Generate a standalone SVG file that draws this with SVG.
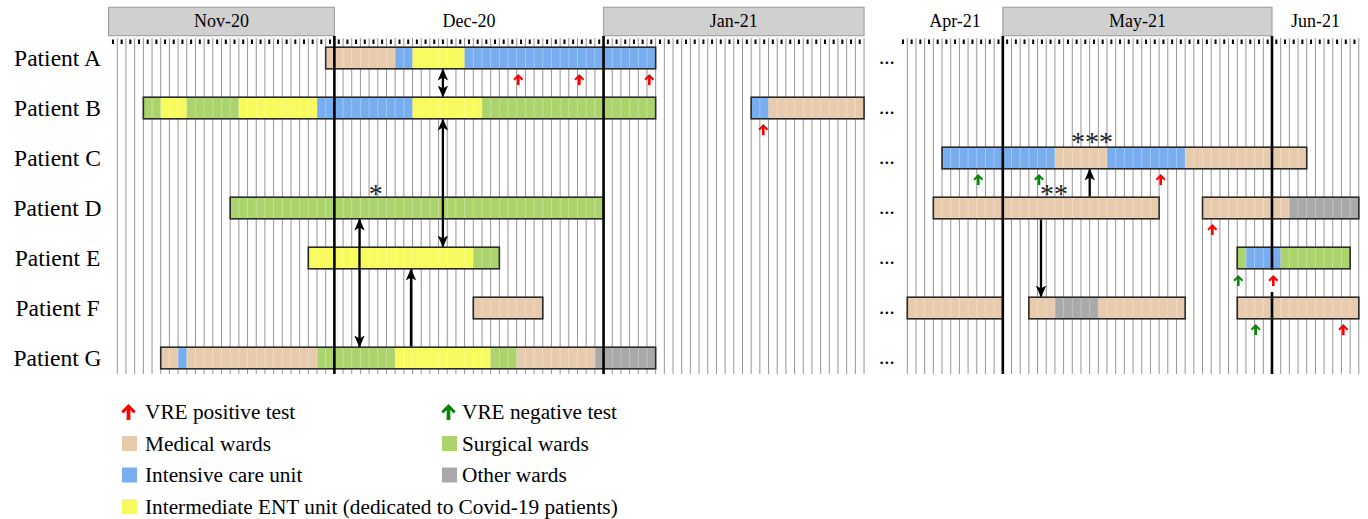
<svg xmlns="http://www.w3.org/2000/svg" width="1368" height="519" viewBox="0 0 1368 519">
<style>
text{font-family:"Liberation Serif","Times New Roman",serif;fill:#000}
.hdr{fill:#d0d0d0;stroke:#a3a3a3;stroke-width:1.2}
.mon{font-size:18px;text-anchor:middle}
.pl{font-size:23.5px;text-anchor:middle}
.dots{font-size:21px}
.star{font-size:28px;text-anchor:middle;fill:#222}
.grid{stroke:#959595;stroke-width:336;stroke-dasharray:1 7.683}
.tick{stroke:#000;stroke-width:4.5;stroke-dasharray:2 6.683}
.ml{stroke:#000;stroke-width:2.6}
.med{fill:#e8cbad}.sur{fill:#acd46c}.icu{fill:#78aef0}.ent{fill:#f8fb5c}.oth{fill:#a9a9a9}
.cell{stroke:#fff;stroke-opacity:.3;stroke-width:21;stroke-dasharray:1 7.683}
.bar{fill:none;stroke:#2a2a2a;stroke-width:1.6}
.pos{fill:#f00}.neg{fill:#0a870a}
.con{stroke:#000;stroke-width:2.3;fill:none}
.leg{font-size:21.3px}
</style>
<defs>
<marker id="ah" viewBox="0 0 12 12" refX="11" refY="6" markerWidth="12" markerHeight="12" markerUnits="userSpaceOnUse" orient="auto-start-reverse"><path d="M0,0.8 L12,6 L0,11.2 L3,6 Z" fill="#000"/></marker>
<path id="up" d="M0,0 L5,5 L3.5,6.5 L1.3,4.2 L1.3,11 L-1.3,11 L-1.3,4.2 L-3.5,6.5 L-5,5 Z"/>
</defs>
<rect width="1368" height="519" fill="#fff"/>

<g id="headers">
<rect class="hdr" x="108.6" y="7.3" width="225.8" height="28.4"/>
<rect class="hdr" x="603.55" y="7.3" width="260.5" height="28.4"/>
<rect class="hdr" x="1002.81" y="7.3" width="269.18" height="28.4"/>
<text class="mon" x="221.5" y="26.5">Nov-20</text>
<text class="mon" x="469" y="26.5">Dec-20</text>
<text class="mon" x="733.8" y="26.5">Jan-21</text>
<text class="mon" x="955" y="26.5">Apr-21</text>
<text class="mon" x="1137.4" y="26.5">May-21</text>
<text class="mon" x="1315.4" y="26.5">Jun-21</text>
</g>

<g id="grid">
<line class="grid" x1="116.8" y1="206" x2="864.6" y2="206"/>
<line class="grid" x1="906.8" y1="206" x2="1359.4" y2="206"/>
<line class="tick" x1="111.96" y1="41.7" x2="862" y2="41.7"/>
<line class="tick" x1="901.96" y1="41.7" x2="1356" y2="41.7"/>
</g>

<g id="labels">
<text class="pl" x="57.5" y="65.5">Patient A</text>
<text class="pl" x="57.5" y="115.5">Patient B</text>
<text class="pl" x="57.5" y="165.5">Patient C</text>
<text class="pl" x="57.5" y="215.5">Patient D</text>
<text class="pl" x="57.5" y="265.5">Patient E</text>
<text class="pl" x="57.5" y="315.5">Patient F</text>
<text class="pl" x="57.5" y="365.5">Patient G</text>
<text class="dots" x="879" y="64">...</text>
<text class="dots" x="879" y="114">...</text>
<text class="dots" x="879" y="164">...</text>
<text class="dots" x="879" y="214">...</text>
<text class="dots" x="879" y="264">...</text>
<text class="dots" x="879" y="314">...</text>
<text class="dots" x="879" y="364">...</text>
</g>

<g id="patient-a">
<rect class="med" x="325.69" y="47.2" width="69.47" height="21.6"/>
<rect class="icu" x="395.16" y="47.2" width="17.36" height="21.6"/>
<rect class="ent" x="412.52" y="47.2" width="52.1" height="21.6"/>
<rect class="icu" x="464.62" y="47.2" width="191.03" height="21.6"/>
<line class="cell" x1="325.19" y1="58" x2="656.15" y2="58"/>
<rect class="bar" x="325.69" y="47.2" width="329.96" height="21.6"/>
</g>

<g id="patient-b">
<rect class="sur" x="143.35" y="97.2" width="17.37" height="21.6"/>
<rect class="ent" x="160.72" y="97.2" width="26.04" height="21.6"/>
<rect class="sur" x="186.76" y="97.2" width="52.1" height="21.6"/>
<rect class="ent" x="238.86" y="97.2" width="78.15" height="21.6"/>
<rect class="icu" x="317.01" y="97.2" width="95.51" height="21.6"/>
<rect class="ent" x="412.52" y="97.2" width="69.47" height="21.6"/>
<rect class="sur" x="481.99" y="97.2" width="173.66" height="21.6"/>
<line class="cell" x1="142.85" y1="108" x2="656.15" y2="108"/>
<rect class="bar" x="143.35" y="97.2" width="512.3" height="21.6"/>
<rect class="icu" x="751.16" y="97.2" width="17.36" height="21.6"/>
<rect class="med" x="768.52" y="97.2" width="95.52" height="21.6"/>
<line class="cell" x1="750.66" y1="108" x2="864.54" y2="108"/>
<rect class="bar" x="751.16" y="97.2" width="112.88" height="21.6"/>
</g>

<g id="patient-c">
<rect class="icu" x="942.03" y="147.2" width="112.88" height="21.6"/>
<rect class="med" x="1054.91" y="147.2" width="52.1" height="21.6"/>
<rect class="icu" x="1107.01" y="147.2" width="78.15" height="21.6"/>
<rect class="med" x="1185.16" y="147.2" width="121.56" height="21.6"/>
<line class="cell" x1="941.53" y1="158" x2="1307.22" y2="158"/>
<rect class="bar" x="942.03" y="147.2" width="364.69" height="21.6"/>
<text class="star" x="1092" y="151">***</text>
</g>

<g id="patient-d">
<rect class="sur" x="230.18" y="197.2" width="373.37" height="21.6"/>
<line class="cell" x1="229.68" y1="208" x2="604.05" y2="208"/>
<rect class="bar" x="230.18" y="197.2" width="373.37" height="21.6"/>
<rect class="med" x="933.35" y="197.2" width="225.76" height="21.6"/>
<line class="cell" x1="932.85" y1="208" x2="1159.61" y2="208"/>
<rect class="bar" x="933.35" y="197.2" width="225.76" height="21.6"/>
<rect class="med" x="1202.52" y="197.2" width="86.83" height="21.6"/>
<rect class="oth" x="1289.35" y="197.2" width="69.47" height="21.6"/>
<line class="cell" x1="1202.02" y1="208" x2="1359.32" y2="208"/>
<rect class="bar" x="1202.52" y="197.2" width="156.3" height="21.6"/>
<text class="star" x="375.7" y="203">*</text>
<text class="star" x="1054" y="203">**</text>
</g>

<g id="patient-e">
<rect class="ent" x="308.33" y="247.2" width="164.97" height="21.6"/>
<rect class="sur" x="473.3" y="247.2" width="26.05" height="21.6"/>
<line class="cell" x1="307.83" y1="258" x2="499.85" y2="258"/>
<rect class="bar" x="308.33" y="247.2" width="191.02" height="21.6"/>
<rect class="sur" x="1237.25" y="247.2" width="8.69" height="21.6"/>
<rect class="icu" x="1245.94" y="247.2" width="34.73" height="21.6"/>
<rect class="sur" x="1280.67" y="247.2" width="69.46" height="21.6"/>
<line class="cell" x1="1236.75" y1="258" x2="1350.63" y2="258"/>
<rect class="bar" x="1237.25" y="247.2" width="112.88" height="21.6"/>
</g>

<g id="patient-f">
<rect class="med" x="473.3" y="297.2" width="69.47" height="21.6"/>
<line class="cell" x1="472.8" y1="308" x2="543.27" y2="308"/>
<rect class="bar" x="473.3" y="297.2" width="69.47" height="21.6"/>
<rect class="med" x="907.3" y="297.2" width="95.51" height="21.6"/>
<line class="cell" x1="906.8" y1="308" x2="1003.31" y2="308"/>
<rect class="bar" x="907.3" y="297.2" width="95.51" height="21.6"/>
<rect class="med" x="1028.86" y="297.2" width="26.05" height="21.6"/>
<rect class="oth" x="1054.91" y="297.2" width="43.42" height="21.6"/>
<rect class="med" x="1098.33" y="297.2" width="86.83" height="21.6"/>
<line class="cell" x1="1028.36" y1="308" x2="1185.66" y2="308"/>
<rect class="bar" x="1028.86" y="297.2" width="156.3" height="21.6"/>
<rect class="med" x="1237.25" y="297.2" width="121.57" height="21.6"/>
<line class="cell" x1="1236.75" y1="308" x2="1359.32" y2="308"/>
<rect class="bar" x="1237.25" y="297.2" width="121.57" height="21.6"/>
</g>

<g id="patient-g">
<rect class="med" x="160.72" y="347.2" width="17.36" height="21.6"/>
<rect class="icu" x="178.08" y="347.2" width="8.68" height="21.6"/>
<rect class="med" x="186.76" y="347.2" width="130.25" height="21.6"/>
<rect class="sur" x="317.01" y="347.2" width="78.15" height="21.6"/>
<rect class="ent" x="395.16" y="347.2" width="95.51" height="21.6"/>
<rect class="sur" x="490.67" y="347.2" width="26.05" height="21.6"/>
<rect class="med" x="516.72" y="347.2" width="78.15" height="21.6"/>
<rect class="oth" x="594.87" y="347.2" width="60.78" height="21.6"/>
<line class="cell" x1="160.22" y1="358" x2="656.15" y2="358"/>
<rect class="bar" x="160.72" y="347.2" width="494.93" height="21.6"/>
</g>

<g id="month-lines">
<line class="ml" x1="334.38" y1="36" x2="334.38" y2="374"/>
<line class="ml" x1="603.55" y1="36" x2="603.55" y2="374"/>
<line class="ml" x1="1002.81" y1="36" x2="1002.81" y2="374"/>
<line class="ml" x1="1271.99" y1="36" x2="1271.99" y2="374"/>
</g>

<g id="tests">
<rect x="436.5" y="70" width="13" height="26" fill="#fff"/>
<rect x="1268.5" y="270" width="7" height="22" fill="#fff"/>
<use href="#up" class="pos" transform="translate(518.3,74)"/>
<use href="#up" class="pos" transform="translate(579.3,74)"/>
<use href="#up" class="pos" transform="translate(649.3,74)"/>
<use href="#up" class="pos" transform="translate(763.3,124)"/>
<use href="#up" class="neg" transform="translate(978.3,174)"/>
<use href="#up" class="neg" transform="translate(1039,174)"/>
<use href="#up" class="pos" transform="translate(1160.7,174)"/>
<use href="#up" class="pos" transform="translate(1212.3,224)"/>
<use href="#up" class="neg" transform="translate(1238.3,275)"/>
<use href="#up" class="pos" transform="translate(1273.3,275)"/>
<use href="#up" class="neg" transform="translate(1255.7,324)"/>
<use href="#up" class="pos" transform="translate(1343.3,324)"/>
</g>

<g id="connectors">
<line class="con" x1="442.9" y1="69.5" x2="442.9" y2="96.5" marker-start="url(#ah)" marker-end="url(#ah)"/>
<line class="con" x1="442.9" y1="119.5" x2="442.9" y2="246.5" marker-start="url(#ah)" marker-end="url(#ah)"/>
<line class="con" x1="359.5" y1="219.5" x2="359.5" y2="346.5" marker-start="url(#ah)" marker-end="url(#ah)"/>
<line class="con" x1="411" y1="346.5" x2="411" y2="269.5" marker-end="url(#ah)"/>
<line class="con" x1="1089.7" y1="196.5" x2="1089.7" y2="169.5" marker-end="url(#ah)"/>
<line class="con" x1="1041" y1="219.5" x2="1041" y2="296.5" marker-end="url(#ah)"/>
</g>

<g id="legend">
<use href="#up" class="pos" transform="translate(128.5,404) scale(1.45)"/>
<text class="leg" x="145" y="419">VRE positive test</text>
<use href="#up" class="neg" transform="translate(448.5,404) scale(1.45)"/>
<text class="leg" x="462" y="419">VRE negative test</text>
<rect class="med" x="122" y="436" width="15" height="15"/>
<text class="leg" x="145" y="450.5">Medical wards</text>
<rect class="sur" x="442" y="436" width="15" height="15"/>
<text class="leg" x="462" y="450.5">Surgical wards</text>
<rect class="icu" x="122" y="467.5" width="15" height="15"/>
<text class="leg" x="145" y="482">Intensive care unit</text>
<rect class="oth" x="442" y="467.5" width="15" height="15"/>
<text class="leg" x="462" y="482">Other wards</text>
<rect class="ent" x="122" y="499" width="15" height="15"/>
<text class="leg" x="145" y="513.5">Intermediate ENT unit (dedicated to Covid-19 patients)</text>
</g>
</svg>
